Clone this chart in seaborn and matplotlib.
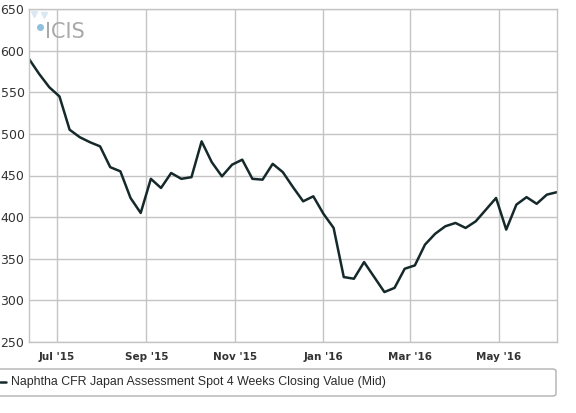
import pandas as pd
import matplotlib
matplotlib.use("Agg")
import matplotlib.pyplot as plt
from matplotlib.patches import FancyBboxPatch
import seaborn as sns

# weekly assessment values (USD/t)
start_date = "2015-06-12"
prices = [590, 572, 556, 545, 505, 496, 490, 485, 460, 455,
          423, 405, 446, 435, 453, 446, 448, 491, 466, 449,
          463, 469, 446, 445, 464, 454, 436, 419, 425, 404,
          387, 328, 326, 346, 328, 310, 315, 338, 342, 367,
          380, 389, 393, 387, 395, 409, 423, 385, 415, 424,
          416, 427, 430]
series_name = "Naphtha CFR Japan Assessment Spot 4 Weeks Closing Value (Mid)"
y_ticks = [250, 300, 350, 400, 450, 500, 550, 600, 650]
x_tick_dates = ["2015-07-01", "2015-09-01", "2015-11-01",
                "2016-01-01", "2016-03-01", "2016-05-01"]
x_tick_labels = ["Jul '15", "Sep '15", "Nov '15", "Jan '16", "Mar '16", "May '16"]

df = pd.DataFrame({
    "date": pd.date_range(start_date, periods=len(prices), freq="7D"),
    "price": prices,
})

sns.set_style("white")
plt.rcParams['font.family'] = ['DejaVu Sans']

fig = plt.figure(figsize=(5.76, 4.13), dpi=100)
ax = fig.add_axes([29 / 576, 1 - 342 / 413, 528 / 576, 333 / 413])

grid_col = "#c4c4c4"
line_col = "#15292b"
sns.lineplot(data=df, x="date", y="price", ax=ax, color=line_col, lw=1.8)

ax.set_xlim(df["date"].iloc[0], df["date"].iloc[-1])
ax.set_ylim(250, 650)
ax.set_yticks(y_ticks)
ax.set_xticks(pd.to_datetime(x_tick_dates))
ax.set_xticklabels(x_tick_labels)
ax.grid(True, color=grid_col, lw=1)
ax.set_axisbelow(True)
ax.set_xlabel("")
ax.set_ylabel("")
for sp in ax.spines.values():
    sp.set_color(grid_col)
    sp.set_linewidth(1)
ax.tick_params(axis="y", length=0, pad=20.5, labelsize=9, labelcolor="#333333")
ax.tick_params(axis="x", length=4, width=1, color=grid_col, pad=3,
               labelsize=7.5, labelcolor="#333333")
for lab in ax.get_xticklabels():
    lab.set_fontweight("bold")
for lab in ax.get_yticklabels():
    lab.set_horizontalalignment("left")

# ICIS watermark
ax.plot([0.01, 0.028], [0.985, 0.982], ls="", marker="v", ms=5,
        color="#d9e8f2", transform=ax.transAxes, clip_on=False)
ax.plot([0.02], [0.945], ls="", marker="o", ms=4, color="#8fc0de",
        transform=ax.transAxes, clip_on=False)
ax.text(0.03, 0.93, "ICIS", transform=ax.transAxes, fontsize=15,
        color="#a9a9a9", va="center", ha="left")

# legend box below the plot
box = FancyBboxPatch((-0.02, 1 - 396 / 413), 556 / 576 + 0.02, 27 / 413,
                     boxstyle="round,pad=0,rounding_size=0.006",
                     transform=fig.transFigure, facecolor="white",
                     edgecolor="#b0b0b0", lw=1)
fig.patches.append(box)
fig.add_artist(plt.Line2D([0, 6 / 576], [1 - 382 / 413] * 2, color=line_col,
                          lw=1.8, transform=fig.transFigure))
fig.text(11 / 576, 1 - 382 / 413, series_name, fontsize=8.9, color="#2b2b2b",
         va="center", ha="left", family=["Liberation Sans", "DejaVu Sans"])

fig.savefig("out.png", dpi=100)
